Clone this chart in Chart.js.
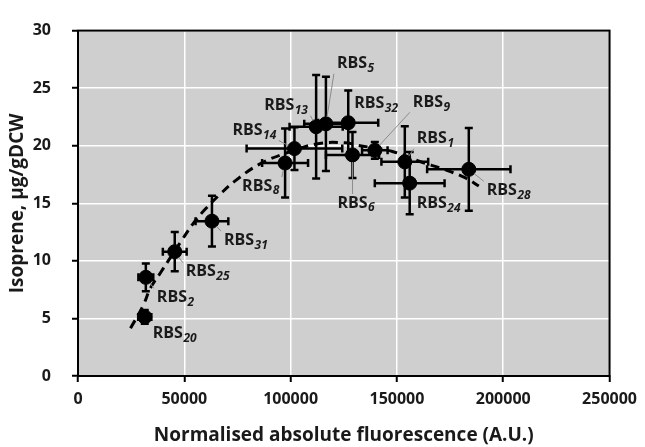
<!DOCTYPE html>
<html>
<head>
<meta charset="utf-8">
<script src="https://cdn.jsdelivr.net/npm/chart.js@4.4.1/dist/chart.umd.min.js"></script>
<style>
  body { margin: 0; background: #fff; }
  canvas { display: block; }
</style>
</head>
<body>
<canvas id="diagram" width="645" height="447"></canvas>
<script>
// RBS variants, measured values and standard deviations
const rbsNevek = ['20', '2', '25', '31', '8', '14', '13', '5', '32', '6', '9', '1', '24', '28'];
const fluoreszcencia = [31400, 31900, 45500, 63000, 97400, 101800, 112000, 116600, 127100, 129100, 139600, 153700, 156000, 183800];
const izopren = [5.13, 8.57, 10.8, 13.45, 18.5, 19.75, 21.65, 21.9, 22.0, 19.2, 19.6, 18.6, 16.75, 17.95];
const fluoreszcenciaHiba = [3100, 3500, 5600, 7700, 10800, 22500, 12500, 10200, 14100, 12500, 6000, 11000, 16400, 19600];
const izoprenHiba = [0.6, 1.2, 1.7, 2.2, 3.0, 1.85, 4.5, 4.1, 2.8, 2.0, 0.73, 3.1, 2.7, 3.6];

// dashed trend line
const trendX = [24700, 30600, 34100, 38800, 49200, 54400, 59900, 66900, 73600, 85400, 100000, 113500, 126000, 131300, 147900, 160400, 172900, 182300, 188500];
const trendY = [4.15, 6.1, 7.65, 8.97, 11.9, 13.3, 14.5, 15.8, 16.9, 18.4, 19.5, 20.2, 20.25, 20.05, 19.5, 18.65, 17.9, 17.2, 16.5];

const xTickek = [0, 50000, 100000, 150000, 200000, 250000];
const yTickek = [0, 5, 10, 15, 20, 25, 30];

// where each label sits relative to its point (px)
const cimkeEltolas = [[8, 17], [11, 20], [11, 20], [12, 19], [-43, 23], [-62, -18], [-52, -21], [11, -60], [6, -19], [-15, 48], [38, -48], [12, -23], [7, 20], [18, 21]];

const betu = '"Open Sans", Lato, sans-serif';

const hatter = {
    id: 'hatter',
    beforeDraw(chart) {
        const { ctx, chartArea: a } = chart;
        ctx.save();
        ctx.fillStyle = '#cfcfcf';
        ctx.fillRect(a.left, a.top, a.right - a.left, a.bottom - a.top);
        ctx.restore();
    },
    afterDraw(chart) {
        const { ctx, chartArea: a } = chart;
        ctx.save();
        ctx.strokeStyle = '#000';
        ctx.lineWidth = 2;
        ctx.strokeRect(a.left, a.top, a.right - a.left, a.bottom - a.top);
        ctx.restore();
    }
};

const hibaSavok = {
    id: 'hibaSavok',
    beforeDatasetsDraw(chart) {
        const { ctx, scales: { x, y } } = chart;
        const sapka = 4;
        ctx.save();
        ctx.strokeStyle = '#000';
        ctx.lineWidth = 2.5;
        fluoreszcencia.forEach((fx, i) => {
            const px = x.getPixelForValue(fx);
            const py = y.getPixelForValue(izopren[i]);
            const x1 = x.getPixelForValue(fx - fluoreszcenciaHiba[i]);
            const x2 = x.getPixelForValue(fx + fluoreszcenciaHiba[i]);
            const y1 = y.getPixelForValue(izopren[i] - izoprenHiba[i]);
            const y2 = y.getPixelForValue(izopren[i] + izoprenHiba[i]);
            ctx.beginPath();
            ctx.moveTo(x1, py); ctx.lineTo(x2, py);
            ctx.moveTo(x1, py - sapka); ctx.lineTo(x1, py + sapka);
            ctx.moveTo(x2, py - sapka); ctx.lineTo(x2, py + sapka);
            ctx.moveTo(px, y1); ctx.lineTo(px, y2);
            ctx.moveTo(px - sapka, y1); ctx.lineTo(px + sapka, y1);
            ctx.moveTo(px - sapka, y2); ctx.lineTo(px + sapka, y2);
            ctx.stroke();
        });
        ctx.restore();
    }
};

const cimkek = {
    id: 'cimkek',
    afterDatasetsDraw(chart) {
        const { ctx, scales: { x, y } } = chart;
        ctx.save();
        ctx.textBaseline = 'middle';
        fluoreszcencia.forEach((fx, i) => {
            const px = x.getPixelForValue(fx);
            const py = y.getPixelForValue(izopren[i]);
            const lx = px + cimkeEltolas[i][0];
            const ly = py + cimkeEltolas[i][1];

            ctx.font = 'bold 16px ' + betu;
            const w1 = ctx.measureText('RBS').width;
            ctx.font = 'italic bold 12px ' + betu;
            const w2 = ctx.measureText(rbsNevek[i]).width;
            const w = w1 + w2;

            // thin leader line from the point to the label box
            const bx = Math.max(lx - 3, Math.min(px, lx + w + 3));
            const by = Math.max(ly - 9, Math.min(py, ly + 10));
            const d = Math.hypot(bx - px, by - py);
            if (d > 12) {
                ctx.strokeStyle = '#8c8c8c';
                ctx.lineWidth = 1;
                ctx.beginPath();
                ctx.moveTo(px + (bx - px) * 7 / d, py + (by - py) * 7 / d);
                ctx.lineTo(bx, by);
                ctx.stroke();
            }

            ctx.fillStyle = '#1a1a1a';
            ctx.font = 'bold 16px ' + betu;
            ctx.fillText('RBS', lx, ly);
            ctx.font = 'italic bold 12px ' + betu;
            ctx.fillText(rbsNevek[i], lx + w1 + 0.5, ly + 5);
        });
        ctx.restore();
    }
};

new Chart(document.getElementById('diagram'), {
    type: 'scatter',
    data: {
        datasets: [{
            label: 'trend',
            data: trendX.map((v, i) => ({ x: v, y: trendY[i] })),
            showLine: true,
            borderColor: '#000',
            borderWidth: 3,
            borderDash: [9, 6],
            tension: 0.4,
            pointRadius: 0,
            fill: false
        }, {
            label: 'RBS',
            data: fluoreszcencia.map((v, i) => ({ x: v, y: izopren[i] })),
            backgroundColor: '#000',
            borderColor: '#000',
            pointRadius: 7,
            pointHoverRadius: 7
        }]
    },
    options: {
        responsive: false,
        animation: false,
        devicePixelRatio: 1,
        layout: { padding: { top: 20, right: 34, left: 0, bottom: 0 } },
        plugins: {
            legend: { display: false },
            tooltip: { enabled: false }
        },
        scales: {
            x: {
                type: 'linear',
                min: 0,
                max: 250000,
                afterBuildTicks: axis => { axis.ticks = xTickek.map(v => ({ value: v })); },
                afterFit: axis => { axis.height = 71; },
                grid: { color: '#fff', lineWidth: 1.5, tickColor: '#000', tickLength: 6, tickWidth: 2 },
                border: { color: '#000', width: 2 },
                ticks: {
                    color: '#1a1a1a',
                    padding: 8,
                    font: { family: betu, size: 16, weight: 'bold' },
                    callback: v => String(v)
                },
                title: {
                    display: true,
                    text: 'Normalised absolute fluorescence (A.U.)',
                    color: '#1a1a1a',
                    font: { family: betu, size: 19, weight: 'bold' },
                    padding: { top: 0, bottom: 0 }
                }
            },
            y: {
                min: 0,
                max: 30,
                afterBuildTicks: axis => { axis.ticks = yTickek.map(v => ({ value: v })); },
                afterFit: axis => { axis.width = 78; },
                grid: { color: '#fff', lineWidth: 1.5, tickColor: '#000', tickLength: 6, tickWidth: 2 },
                border: { color: '#000', width: 2 },
                ticks: {
                    color: '#1a1a1a',
                    padding: 21,
                    font: { family: betu, size: 16, weight: 'bold' },
                    callback: v => String(v)
                },
                title: {
                    display: true,
                    text: 'Isoprene, µg/gDCW',
                    color: '#1a1a1a',
                    font: { family: betu, size: 19, weight: 'bold' },
                    padding: { top: 6, bottom: 0 }
                }
            }
        }
    },
    plugins: [hatter, hibaSavok, cimkek]
});
</script>
</body>
</html>
